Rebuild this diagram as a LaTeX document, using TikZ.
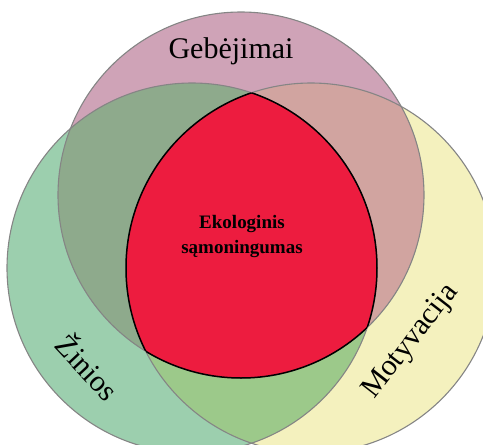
\documentclass[tikz,border=0pt]{standalone}
\usepackage{fontspec}
\setmainfont{Liberation Serif}
\definecolor{cpink}{HTML}{CFA3B7}
\definecolor{cgreen}{HTML}{9CCFAE}
\definecolor{cyellow}{HTML}{F4F1BE}
\definecolor{ctl}{HTML}{8EAA8C}
\definecolor{ctr}{HTML}{D1A4A0}
\definecolor{clr}{HTML}{9CC98A}
\definecolor{cred}{HTML}{ED1C3F}
\definecolor{cline}{HTML}{858585}
\tikzset{
  ringline/.style={draw=cline, line width=1.1pt},
  redline/.style={draw=black, line width=1.5pt},
  bigtext/.style={font=\fontsize{30}{32}\selectfont, inner sep=0pt},
  centertext/.style={font=\fontsize{19}{25}\selectfont\bfseries, align=center, inner sep=0pt}
}
\newcommand{\circT}{(241,195) circle (183)}
\newcommand{\circL}{(192,268) circle (185)}
\newcommand{\circR}{(311,268) circle (185)}
\begin{document}
\begin{tikzpicture}[x=1pt,y=-1pt]
\useasboundingbox (0,0) rectangle (483,445);
\begin{scope}
\clip (0,0) rectangle (483,445);
\fill[cgreen] \circL;
\fill[cyellow] \circR;
\fill[cpink] \circT;
\begin{scope}\clip \circT; \fill[ctl] \circL;\end{scope}
\begin{scope}\clip \circT; \fill[ctr] \circR;\end{scope}
\begin{scope}\clip \circL; \fill[clr] \circR;\end{scope}
\draw[ringline] \circL;
\draw[ringline] \circR;
\draw[ringline] \circT;
\begin{scope}\clip \circT; \clip \circL; \fill[cred] \circR;\end{scope}
\begin{scope}\clip \circL; \clip \circR; \draw[redline] \circT;\end{scope}
\begin{scope}\clip \circT; \clip \circR; \draw[redline] \circL;\end{scope}
\begin{scope}\clip \circT; \clip \circL; \draw[redline] \circR;\end{scope}
\end{scope}
\node[bigtext] (geb) at (231,51) {Gebėjimai};
\node[bigtext, rotate=-47] (zin) at (89,366) {Žinios};
\node[bigtext, rotate=52] (mot) at (411,342) {Motyvacija};
\node[centertext] (eko) at (242,237) {Ekologinis\\sąmoningumas};
\end{tikzpicture}
\end{document}
